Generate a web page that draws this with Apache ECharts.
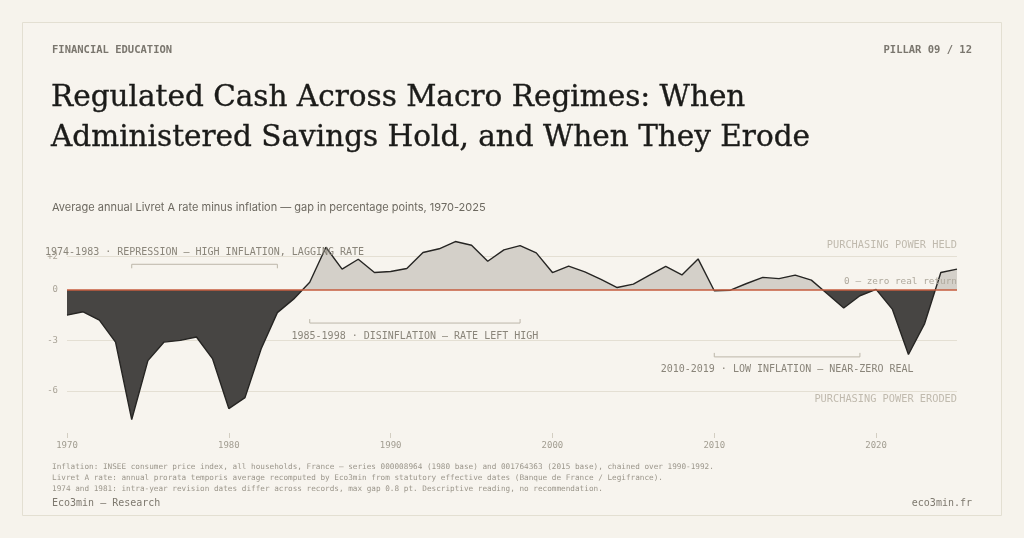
<!DOCTYPE html>
<html>
<head>
<meta charset="utf-8">
<script src="https://cdn.jsdelivr.net/npm/echarts@6/dist/echarts.min.js"></script>
<style>
html,body{margin:0;padding:0;background:#f6f3ec;}
#c{width:1024px;height:538px;}
</style>
</head>
<body>
<div id="c"></div>
<script>
// ---- data ----
const years = [1970,1971,1972,1973,1974,1975,1976,1977,1978,1979,
               1980,1981,1982,1983,1984,1985,1986,1987,1988,1989,
               1990,1991,1992,1993,1994,1995,1996,1997,1998,1999,
               2000,2001,2002,2003,2004,2005,2006,2007,2008,2009,
               2010,2011,2012,2013,2014,2015,2016,2017,2018,2019,
               2020,2021,2022,2023,2024,2025];
const realGap = [-1.5,-1.3,-1.8,-3.1,-7.7,-4.2,-3.1,-3.0,-2.8,-4.1,
                 -7.05,-6.4,-3.5,-1.35,-0.55,0.45,2.53,1.23,1.82,1.03,
                 1.09,1.27,2.22,2.44,2.87,2.65,1.7,2.38,2.63,2.2,
                 1.03,1.41,1.07,0.63,0.14,0.34,0.87,1.39,0.89,1.84,
                 -0.05,-0.02,0.38,0.74,0.67,0.88,0.58,-0.25,-1.08,-0.35,
                 0.03,-1.14,-3.84,-2.0,1.03,1.23];
const xTicks = [1970,1980,1990,2000,2010,2020];
const yTicks = [2,0,-3,-6];
const yTickLabels = ['+2','0','-3','-6'];
const zoneValues = [2,0,-6];
const zoneLabels = ['PURCHASING POWER HELD','0 — zero real return','PURCHASING POWER ERODED'];
const periodStart = [1974,1985,2010];
const periodEnd = [1983,1998,2019];
const periodLabels = ['1974-1983 · REPRESSION — HIGH INFLATION, LAGGING RATE',
                      '1985-1998 · DISINFLATION — RATE LEFT HIGH',
                      '2010-2019 · LOW INFLATION — NEAR-ZERO REAL'];
const footnotes = [
  'Inflation: INSEE consumer price index, all households, France — series 000008964 (1980 base) and 001764363 (2015 base), chained over 1990-1992.',
  'Livret A rate: annual prorata temporis average recomputed by Eco3min from statutory effective dates (Banque de France / Legifrance).',
  '1974 and 1981: intra-year revision dates differ across records, max gap 0.8 pt. Descriptive reading, no recommendation.'
];

// ---- layout (kept apart from data) ----
const MONO = '"DejaVu Sans Mono", monospace';
const bracketLevel = [1.52, -1.97, -3.98];
const bracketDir = [1, -1, -1]; // 1: ticks down, label above ; -1: ticks up, label below

const seriesData = years.map((y, i) => [y, realGap[i]]);
const bracketData = periodStart.map((s, i) => [s, periodEnd[i], bracketLevel[i], bracketDir[i], i]);

const chart = echarts.init(document.getElementById('c'), null, {renderer: 'canvas'});

const gridMarks = yTicks.map((v, i) => ({
  yAxis: v,
  lineStyle: v === 0 ? {color: 'rgba(0,0,0,0)'} : {color: '#e4dfd3', width: 1, type: 'solid'},
  label: {show: true, position: 'start', distance: 9, formatter: yTickLabels[i],
          color: '#aaa498', fontFamily: MONO, fontSize: 9}
}));

const zoneMarks = zoneValues.map((v, i) => ({
  yAxis: v,
  lineStyle: v === 0 ? {color: '#c65c3e', width: 1.6, type: 'solid'} : {color: 'rgba(0,0,0,0)', width: 1},
  label: {show: true, position: v < 0 ? 'insideEndBottom' : 'insideEndTop',
          distance: [0, v === 0 ? 4 : (v > 0 ? 6 : 3)],
          formatter: zoneLabels[i],
          color: v === 0 ? '#afa99d' : '#c0baae',
          fontFamily: MONO, fontSize: v === 0 ? 9.4 : 10.3}
}));

const titleStyle = {font: '29.5px "DejaVu Serif", serif', fill: '#1b1b19', stroke: '#1b1b19',
                    lineWidth: 0.35, textVerticalAlign: 'middle'};

chart.setOption({
  backgroundColor: '#f6f3ec',
  animation: false,
  grid: {left: 67, right: 67, top: 236, bottom: 105},
  xAxis: {
    type: 'value', min: 1970, max: 2025,
    axisLine: {show: false, onZero: false},
    axisTick: {show: true, customValues: xTicks, length: 5, lineStyle: {color: '#d3cec2'}},
    axisLabel: {customValues: xTicks, formatter: v => String(v), color: '#a29d91', fontFamily: MONO, fontSize: 9, margin: 8},
    splitLine: {show: false}
  },
  yAxis: {
    type: 'value', min: -8.5, max: 3.2,
    axisLine: {show: false}, axisTick: {show: false}, axisLabel: {show: false}, splitLine: {show: false}
  },
  visualMap: {
    show: false, type: 'piecewise', seriesIndex: 0, dimension: 1,
    pieces: [{gte: -50, lt: 0, color: '#474543'}, {gte: 0, lte: 50, color: '#d4d0c9'}]
  },
  graphic: [
    {type: 'rect', z: -10, shape: {x: 22.5, y: 22.5, width: 979, height: 493},
     style: {fill: '#f7f4ee', stroke: '#e3dfd2', lineWidth: 1}},
    {type: 'text', x: 52, y: 50, style: {text: 'FINANCIAL EDUCATION', font: 'bold 10.5px ' + MONO,
      fill: '#7a766e', textVerticalAlign: 'middle'}},
    {type: 'text', x: 972, y: 50, style: {text: 'PILLAR 09 / 12', font: 'bold 10.5px ' + MONO,
      fill: '#7a766e', textAlign: 'right', textVerticalAlign: 'middle'}},
    {type: 'text', x: 51, y: 98, style: Object.assign({text: 'Regulated Cash Across Macro Regimes: When'}, titleStyle)},
    {type: 'text', x: 51, y: 138, style: Object.assign({text: 'Administered Savings Hold, and When They Erode'}, titleStyle)},
    {type: 'text', x: 52, y: 208, style: {text: 'Average annual Livret A rate minus inflation — gap in percentage points, 1970-2025',
      font: '11px Inter, sans-serif', fill: '#6d6960', textVerticalAlign: 'middle'}},
    ...footnotes.map((t, i) => ({type: 'text', x: 52, y: 467 + i * 11,
      style: {text: t, font: '7.7px ' + MONO, fill: '#9c978c', textVerticalAlign: 'middle'}})),
    {type: 'text', x: 52, y: 503, style: {text: 'Eco3min — Research', font: '10px ' + MONO,
      fill: '#7d786e', textVerticalAlign: 'middle'}},
    {type: 'text', x: 972, y: 503, style: {text: 'eco3min.fr', font: '10px ' + MONO,
      fill: '#7d786e', textAlign: 'right', textVerticalAlign: 'middle'}}
  ],
  series: [
    {
      type: 'line', z: 2, data: seriesData, symbol: 'none', silent: true,
      lineStyle: {width: 0},
      areaStyle: {opacity: 1},
      markLine: {z: 1, silent: true, symbol: ['none', 'none'], animation: false, data: gridMarks}
    },
    {
      type: 'line', z: 3, data: seriesData, symbol: 'none', silent: true,
      lineStyle: {color: '#262523', width: 1.4},
      markLine: {z: 4, silent: true, symbol: ['none', 'none'], animation: false, data: zoneMarks}
    },
    {
      type: 'custom', z: 5, silent: true, clip: false, data: bracketData,
      renderItem: function (params, api) {
        const s = api.coord([api.value(0), api.value(2)]);
        const e = api.coord([api.value(1), api.value(2)]);
        const dir = api.value(3);
        const idx = api.value(4);
        const t = 4 * dir;
        return {
          type: 'group',
          children: [
            {type: 'polyline', shape: {points: [[s[0], s[1] + t], [s[0], s[1]], [e[0], e[1]], [e[0], e[1] + t]]},
             style: {stroke: '#bcb6a9', lineWidth: 1, fill: null}},
            {type: 'text', x: (s[0] + e[0]) / 2, y: s[1] - dir * (dir > 0 ? 11.5 : 13),
             style: {text: periodLabels[idx], font: '10px ' + MONO, fill: '#8a857a',
                     textAlign: 'center', textVerticalAlign: 'middle'}}
          ]
        };
      }
    }
  ]
});
</script>
</body>
</html>
